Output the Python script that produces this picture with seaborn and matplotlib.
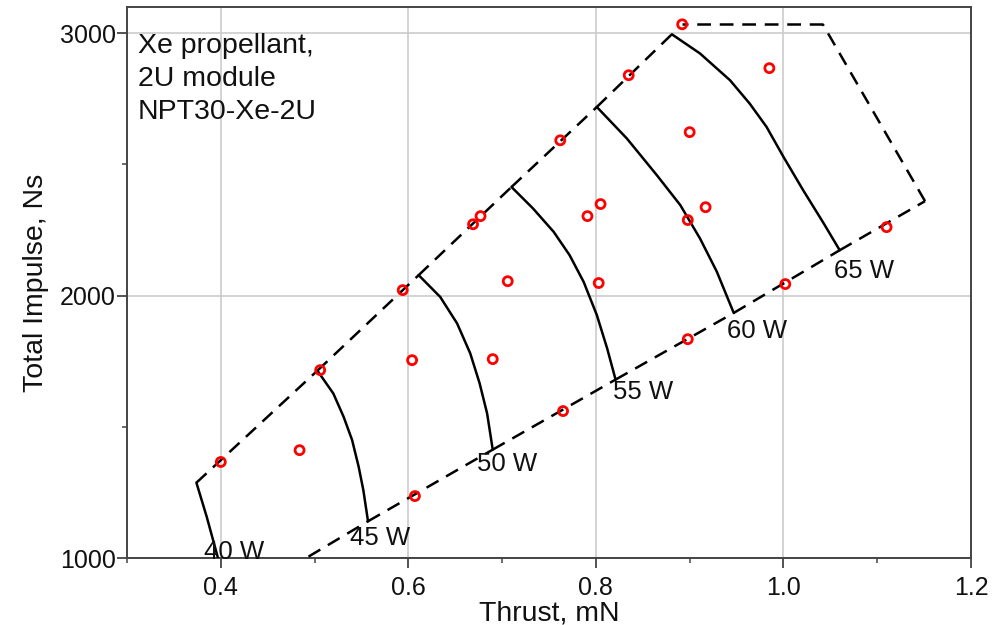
import matplotlib
matplotlib.use("Agg")
import matplotlib.pyplot as plt
import seaborn as sns
import pandas as pd
from matplotlib.ticker import MultipleLocator

# ---- measured points (thrust mN, total impulse Ns) ----
pt_thrust = [0.400, 0.484, 0.506, 0.594, 0.604, 0.607, 0.669, 0.677, 0.690, 0.706,
             0.762, 0.765, 0.791, 0.803, 0.805, 0.835, 0.892, 0.898, 0.898, 0.900,
             0.917, 0.985, 1.002, 1.110]
pt_impulse = [1366, 1411, 1716, 2021, 1754, 1236, 2272, 2303, 1758, 2055,
              2592, 1560, 2303, 2048, 2349, 2840, 3034, 2288, 1834, 2623,
              2337, 2867, 2044, 2261]

# ---- constant power curves ----
power_labels = ["40 W", "45 W", "50 W", "55 W", "60 W", "65 W"]
c40_x = [0.374, 0.385, 0.397, 0.411]
c40_y = [1287, 1157, 1000, 830]
c45_x = [0.503, 0.520, 0.531, 0.540, 0.547, 0.552, 0.557]
c45_y = [1714, 1627, 1538, 1450, 1348, 1259, 1140]
c50_x = [0.611, 0.634, 0.652, 0.666, 0.676, 0.684, 0.690]
c50_y = [2078, 1995, 1894, 1780, 1666, 1551, 1413]
c55_x = [0.710, 0.733, 0.755, 0.772, 0.787, 0.801, 0.812, 0.821]
c55_y = [2414, 2332, 2243, 2154, 2052, 1926, 1799, 1680]
c60_x = [0.801, 0.833, 0.865, 0.890, 0.911, 0.929, 0.947]
c60_y = [2719, 2599, 2459, 2345, 2218, 2091, 1934]
c65_x = [0.881, 0.911, 0.943, 0.964, 0.982, 1.000, 1.021, 1.043, 1.060]
c65_y = [2996, 2923, 2821, 2732, 2643, 2529, 2402, 2275, 2173]

# envelope corners (right side)
corner_x = [1.151, 1.042, 0.892]
corner_y = [2360, 3034, 3034]

# label anchor positions (centre of text)
label_x = [0.414, 0.570, 0.705, 0.850, 0.972, 1.086]
label_y = [1023, 1076, 1358, 1632, 1865, 2093]

curves_x = [c40_x, c45_x, c50_x, c55_x, c60_x, c65_x]
curves_y = [c40_y, c45_y, c50_y, c55_y, c60_y, c65_y]

sns.set_style("ticks")
plt.rcParams["font.family"] = ["Liberation Sans", "DejaVu Sans"]

fig = plt.figure(figsize=(9.97, 6.25), dpi=100)
ax = fig.add_axes([0.1274, 0.1072, 0.8465, 0.8816])

dash = (0, (5.5, 3.5))
lw = 1.8

def seg(xs, ys, **kw):
    df = pd.DataFrame({"x": xs, "y": ys})
    sns.lineplot(data=df, x="x", y="y", sort=False, estimator=None, ax=ax,
                 color="black", linewidth=lw, solid_joinstyle="round", **kw)

# solid power curves
for xs, ys in zip(curves_x, curves_y):
    seg(xs, ys, zorder=3)

# dashed envelope: upper edge through curve tops, lower edge through curve bottoms
tops = [(xs[0], ys[0]) for xs, ys in zip(curves_x, curves_y)]
bots = [(xs[-1], ys[-1]) for xs, ys in zip(curves_x, curves_y)]
for a, b in zip(tops[:-1], tops[1:]):
    seg([a[0], b[0]], [a[1], b[1]], linestyle=dash, zorder=3)
lower = bots + [(corner_x[0], corner_y[0])]
for a, b in zip(lower[:-1], lower[1:]):
    seg([a[0], b[0]], [a[1], b[1]], linestyle=dash, zorder=3)
seg([corner_x[0], corner_x[1]], [corner_y[0], corner_y[1]], linestyle=dash, zorder=3)
seg([corner_x[1], corner_x[2]], [corner_y[1], corner_y[2]], linestyle=dash, zorder=3)

# measured points
pts = pd.DataFrame({"Thrust": pt_thrust, "Impulse": pt_impulse})
sns.scatterplot(data=pts, x="Thrust", y="Impulse", ax=ax, marker="o", s=42,
                facecolors="none", edgecolor="#ff0000", linewidth=2.0, zorder=4)

# power labels
for lab, lx, ly in zip(power_labels, label_x, label_y):
    ax.text(lx, ly, lab, fontsize=18.5, ha="center", va="center", color="#111111",
            zorder=5, clip_on=False)

ax.text(0.013, 0.952, "Xe propellant,\n2U module\nNPT30-Xe-2U", transform=ax.transAxes,
        fontsize=20.5, ha="left", va="top", color="#111111", linespacing=1.33)

ax.set_xlim(0.3, 1.2)
ax.set_ylim(1000, 3100)
ax.xaxis.set_minor_locator(MultipleLocator(0.1))
ax.yaxis.set_minor_locator(MultipleLocator(500))
ax.set_xticks([0.4, 0.6, 0.8, 1.0, 1.2])
ax.set_xticklabels(["0.4", "0.6", "0.8", "1.0", "1.2"])
ax.set_yticks([1000, 2000, 3000])
ax.set_yticklabels(["1000", "2000", "3000"])

ax.grid(True, which="major", color="#cccccc", linewidth=1.2, zorder=0)
ax.set_axisbelow(True)
ax.tick_params(axis="x", which="major", pad=6)
ax.tick_params(axis="y", which="major", pad=1)
ax.tick_params(which="major", direction="out", length=7, width=1.3, color="#444444",
               labelsize=18, labelcolor="#111111")
ax.tick_params(which="minor", direction="out", length=3.5, width=1.1, color="#444444")
for sp in ax.spines.values():
    sp.set_visible(True)
    sp.set_color("#444444")
    sp.set_linewidth(1.4)

ax.set_xlabel("Thrust, mN", fontsize=20.5, color="#111111", labelpad=0)
ax.set_ylabel("Total Impulse, Ns", fontsize=20.5, color="#111111", labelpad=8)

fig.savefig("out.png", dpi=100, facecolor="white")
